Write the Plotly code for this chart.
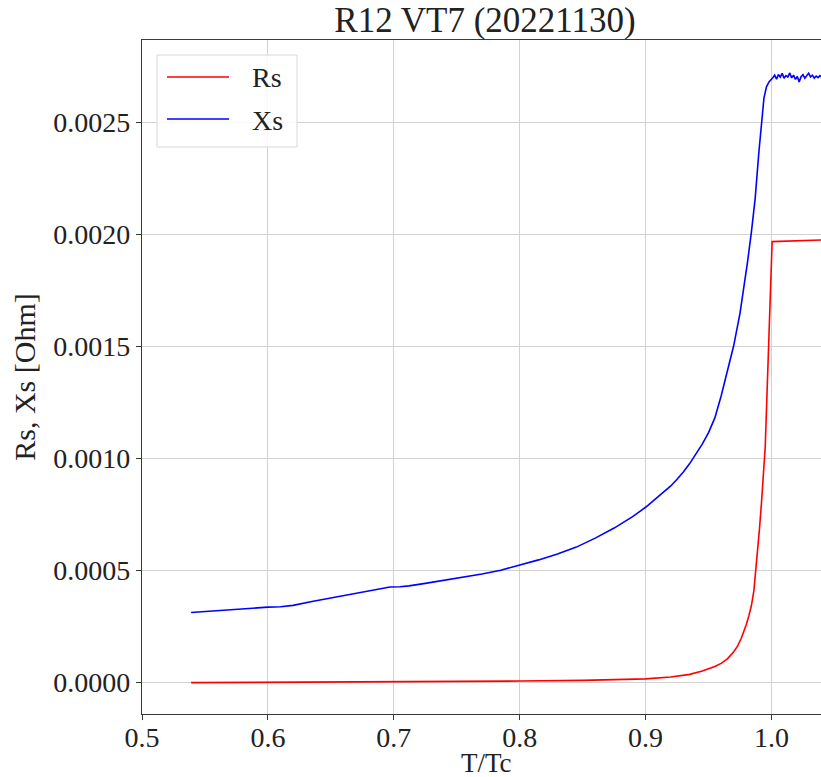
import plotly.graph_objects as go

# Measured surface resistance / reactance vs reduced temperature
rs_t = [0.539, 0.60, 0.65, 0.70, 0.75, 0.80, 0.85, 0.88, 0.90, 0.92, 0.935, 0.945,
        0.955, 0.960, 0.965, 0.970, 0.973, 0.976, 0.978, 0.980, 0.982, 0.984, 0.986,
        0.9875, 0.989, 0.9905, 0.992, 0.9935, 0.995, 1.0005, 1.010, 1.020, 1.030, 1.040]
rs_val = [0.0, 0.000001, 0.000002, 0.000003, 0.000005, 0.000007, 0.000010, 0.000013,
          0.000017, 0.000025, 0.000037, 0.000052, 0.000072, 0.000086, 0.000106,
          0.000138, 0.000163, 0.000198, 0.000226, 0.000260, 0.000298, 0.000343,
          0.000410, 0.000495, 0.000585, 0.000690, 0.000800, 0.000915, 0.001050,
          0.001969, 0.001971, 0.001973, 0.001975, 0.001976]

xs_t = [0.539, 0.56, 0.58, 0.60, 0.61, 0.62, 0.635, 0.65, 0.665, 0.68, 0.69, 0.697,
        0.705, 0.712, 0.725, 0.74, 0.755, 0.77, 0.785, 0.80, 0.815, 0.83, 0.845, 0.86,
        0.875, 0.89, 0.90, 0.91, 0.92, 0.925, 0.93, 0.935, 0.94, 0.945, 0.95, 0.955,
        0.96, 0.965, 0.970, 0.975, 0.978, 0.981, 0.984, 0.987, 0.990, 0.992, 0.994,
        0.996, 0.998,
        1.001, 1.0025, 1.004, 1.0055, 1.007, 1.0085, 1.010, 1.0115, 1.013, 1.0145,
        1.016, 1.0175, 1.019, 1.0205, 1.022, 1.0235, 1.025, 1.0265, 1.028, 1.0295,
        1.031, 1.0325, 1.034, 1.0355, 1.037, 1.0385, 1.040]
xs_val = [0.000313, 0.000322, 0.000331, 0.000337, 0.000339, 0.000345, 0.000362,
          0.000378, 0.000393, 0.000408, 0.000420, 0.000427, 0.000428, 0.000432,
          0.000443, 0.000456, 0.000470, 0.000485, 0.000502, 0.000524, 0.000548,
          0.000574, 0.000605, 0.000645, 0.000690, 0.000742, 0.000783, 0.000830,
          0.000878, 0.000908, 0.000940, 0.000978, 0.001020, 0.001065, 0.001116,
          0.001182, 0.001280, 0.001390, 0.001505, 0.001650, 0.001760, 0.001880,
          0.002010, 0.002160, 0.002370, 0.002510, 0.002610, 0.002660, 0.002682,
          0.002700, 0.002712, 0.002694, 0.002715, 0.002703, 0.002720, 0.002698,
          0.002710, 0.002704, 0.002722, 0.002700, 0.002712, 0.002693, 0.002706,
          0.002682, 0.002705, 0.002714, 0.002698, 0.002710, 0.002721, 0.002704,
          0.002712, 0.002699, 0.002708, 0.002701, 0.002710, 0.002703]

x_ticks = [0.5, 0.6, 0.7, 0.8, 0.9, 1.0]
y_ticks = [0.0, 0.0005, 0.0010, 0.0015, 0.0020, 0.0025]

FONT = "Liberation Serif"
W, H = 821, 777
ML, MR, MT, MB = 142, 0, 40, 63
PW, PH = W - ML - MR, H - MT - MB


def px(x):
    return (x - ML) / PW


def py(y):
    return 1 - (y - MT) / PH


fig = go.Figure()
fig.add_trace(go.Scatter(x=rs_t, y=rs_val, mode="lines", name="Rs",
                         line=dict(color="#ff0000", width=1.6), showlegend=False))
fig.add_trace(go.Scatter(x=xs_t, y=xs_val, mode="lines", name="Xs",
                         line=dict(color="#0000ff", width=1.6), showlegend=False))

axis_common = dict(
    showgrid=True, gridcolor="#d2d2d2", gridwidth=1,
    showline=True, linecolor="#3a3a3a", linewidth=1.2,
    ticks="outside", ticklen=5, tickcolor="#3a3a3a", tickwidth=1.2,
    tickfont=dict(family=FONT, size=28, color="#222"),
    zeroline=False, automargin=False,
)

fig.update_xaxes(range=[0.5, 0.5 + PW / 1259.0], tickvals=x_ticks,
                 ticktext=[f"{v:.1f}" for v in x_ticks], mirror=True,
                 ticklabelstandoff=-7,
                 **axis_common)
fig.update_yaxes(range=[-0.00014, 0.002869], tickvals=y_ticks,
                 ticktext=[f"{v:.4f}" for v in y_ticks],
                 title=dict(text="Rs, Xs [Ohm]", font=dict(family=FONT, size=30, color="#222"),
                            standoff=8),
                 **axis_common)

# Legend box with line samples
x0, x1, y0, y1 = px(157), px(297), py(55), py(147)
shapes = [dict(type="rect", xref="paper", yref="paper", x0=x0, x1=x1, y0=y1, y1=y0,
               line=dict(color="#d8d8d8", width=1), fillcolor="rgba(255,255,255,0.85)",
               layer="above")]
annotations = [dict(text="T/Tc", xref="paper", yref="paper", x=px(486), y=py(763),
                    xanchor="center", yanchor="middle", showarrow=False,
                    font=dict(family=FONT, size=27, color="#222"))]
for name, color, yy in [("Rs", "#ff0000", 77), ("Xs", "#0000ff", 119)]:
    shapes.append(dict(type="line", xref="paper", yref="paper", x0=px(167), x1=px(229),
                       y0=py(yy), y1=py(yy), line=dict(color=color, width=1.6),
                       layer="above"))
    annotations.append(dict(text=name, xref="paper", yref="paper", x=px(250), y=py(yy + 1),
                            xanchor="left", yanchor="middle", showarrow=False,
                            font=dict(family=FONT, size=28, color="#222")))

fig.update_layout(
    width=W, height=H,
    margin=dict(l=ML, r=MR, t=MT, b=MB),
    plot_bgcolor="white", paper_bgcolor="white",
    title=dict(text="R12 VT7 (20221130)", x=px(485), xref="paper", xanchor="center",
               y=1 - 20 / H, yref="container", yanchor="middle",
               font=dict(family=FONT, size=35, color="#222")),
    shapes=shapes, annotations=annotations,
    showlegend=False,
)

fig.write_html("out.html")
